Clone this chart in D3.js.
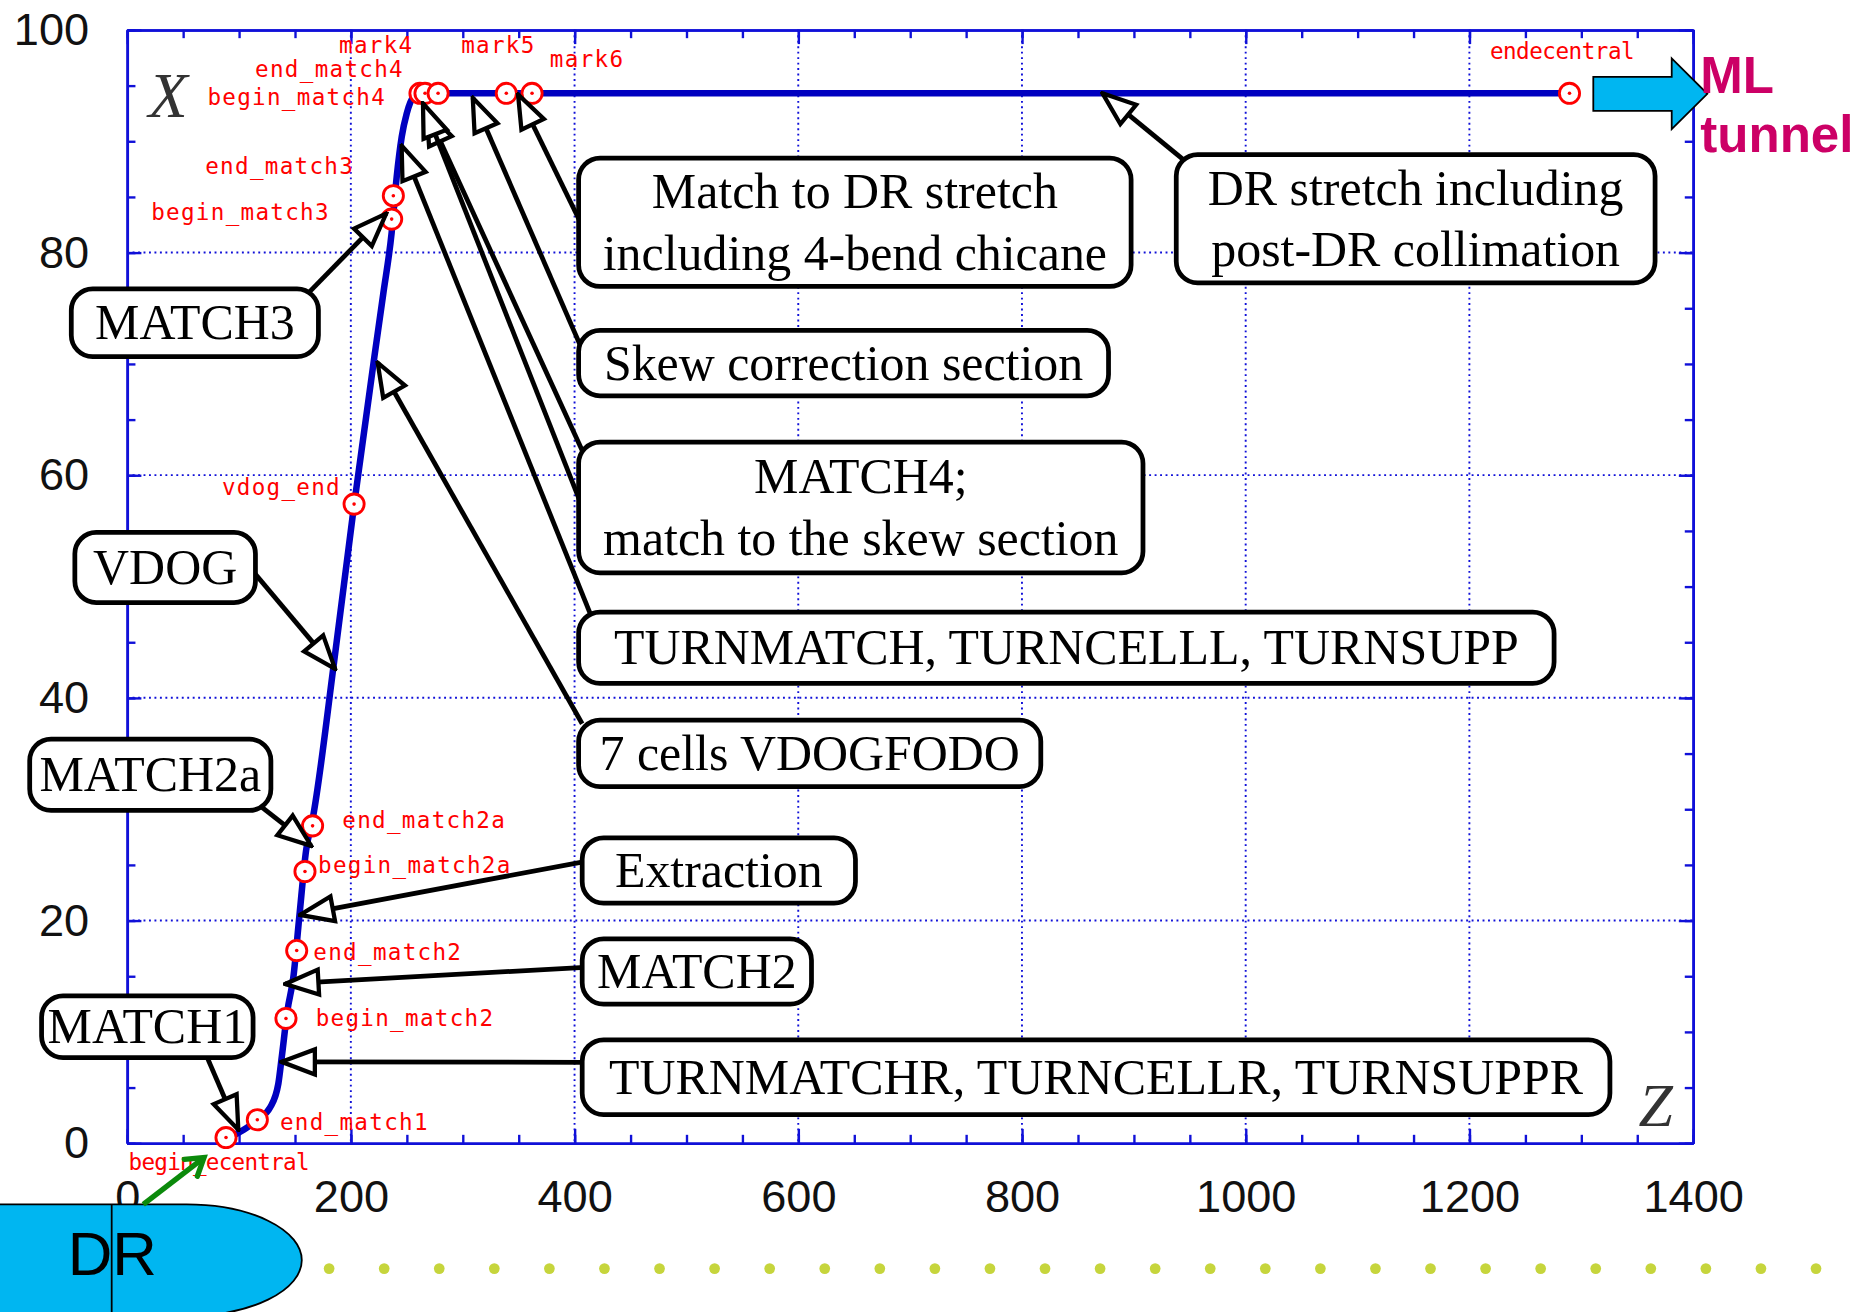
<!DOCTYPE html>
<html>
<head>
<meta charset="utf-8">
<script src="https://cdn.jsdelivr.net/npm/d3@7"></script>
<style>
  body { margin: 0; background: #fff; }
  svg { display: block; }
</style>
</head>
<body>
<div id="chart"></div>
<script>
// beam line of the e- RTML: horizontal position X (m) against Z (m)
var lineZ = [88.4, 97.9, 116.4, 127.8, 135.2, 138.2, 143.3, 148.6, 153.9, 160, 166, 185, 203, 221, 229, 236.5, 241, 245.5, 250, 256, 261, 1290];
var lineX = [0.5, 0.85, 2.1, 3.2, 5.35, 7.7, 11.9, 14.9, 20.3, 26.3, 29.2, 43.2, 57.4, 70.6, 76.3, 81.8, 86.8, 90.4, 92.5, 94.0, 94.3, 94.3];

// lattice markers
var markerNames = ["begin_ecentral", "end_match1", "begin_match2", "end_match2", "begin_match2a", "end_match2a",
  "vdog_end", "begin_match3", "end_match3", "begin_match4", "end_match4", "mark4", "mark5", "mark6", "endecentral"];
var markerZ = [88.4, 116.4, 142, 151.6, 159, 165.8, 202.9, 236.5, 238, 261.8, 266.3, 278, 339, 362, 1289.5];
var markerX = [0.5, 2.1, 11.2, 17.3, 24.4, 28.5, 57.4, 83.0, 85.1, 94.3, 94.3, 94.3, 94.3, 94.3, 94.3];

// axis ticks
var xTicks = [0, 200, 400, 600, 800, 1000, 1200, 1400];
var yTicks = [0, 20, 40, 60, 80, 100];

// section call-outs
var calloutText = [
  ["MATCH3"],
  ["Match to DR stretch", "including 4-bend chicane"],
  ["DR stretch including", "post-DR collimation"],
  ["Skew correction section"],
  ["MATCH4;", "match to the skew section"],
  ["TURNMATCH, TURNCELLL, TURNSUPP"],
  ["7 cells VDOGFODO"],
  ["Extraction"],
  ["MATCH2"],
  ["TURNMATCHR, TURNCELLR, TURNSUPPR"],
  ["MATCH1"],
  ["MATCH2a"],
  ["VDOG"]
];
// where each arrow points, in (Z, X), and which call-out it leaves from
var arrowFrom = [0, 1, 2, 3, 4, 4, 5, 6, 7, 8, 9, 10, 11, 12];
var arrowTipZ = [231.6, 349.5, 872, 309, 267.7, 264.5, 245.4, 224, 154.6, 141.3, 138.1, 99.4, 164.6, 185.9];
var arrowTipX = [83.5, 94.2, 94.3, 93.9, 92.7, 93.4, 89.6, 70.1, 20.5, 14.3, 7.3, 1.2, 26.7, 42.6];

// ---- layout (picture units) ----
var W = 1568, H = 1104;
var margin = {top: 25, right: 143, bottom: 142, left: 107};
var width = W - margin.left - margin.right;
var height = H - margin.top - margin.bottom;

// label offsets from the marker: dx, dy, anchor, letter spacing
var labelLayout = [
  [-82, 27.5, "start", -0.6], [19, 9, "start", 1.1], [25, 6, "start", 1.1], [14, 8, "start", 1.1],
  [11, 1, "start", 1.1], [25, 2, "start", 1.1], [-11, -8, "end", 1.1], [-52, 0.5, "end", 1.1],
  [-33, -18, "end", 1.1], [-28.5, 9.5, "end", 1.1], [-17.7, -13.6, "end", 1.1], [-20.7, -34, "end", 1.1],
  [-38, -34, "start", 1.1], [15, -22, "start", 1.1], [-67, -29, "start", -0.4]
];
// call-out boxes: x, y, w, h
var boxes = [
  [60, 243, 208, 57], [487, 133, 465, 108], [990, 130, 403, 108], [487, 278, 446, 55],
  [487, 372, 475, 110], [487, 515, 821, 60], [487, 606, 389, 56], [490, 705, 230, 55],
  [490, 790, 193, 55], [490, 875, 865, 63], [35, 838, 178, 52], [25, 622, 203, 60], [63, 448, 152, 59]
];
var arrowTails = [
  [258, 248], [489, 188], [997, 135], [489, 292], [490, 379], [489, 424], [497, 517],
  [490, 609], [492, 725], [492, 814], [492, 894], [174, 889], [220, 679], [214, 482]
];

var svg = d3.select("#chart").append("svg")
  .attr("width", 1863)
  .attr("height", 1312)
  .attr("viewBox", `0 0 ${W} ${H}`);

var defs = svg.append("defs");
defs.append("marker")
  .attr("id", "head")
  .attr("markerUnits", "userSpaceOnUse")
  .attr("viewBox", "0 -14 34 28")
  .attr("refX", 32).attr("refY", 0)
  .attr("markerWidth", 34).attr("markerHeight", 28)
  .attr("orient", "auto")
  .append("path")
  .attr("d", "M4,-10.5L32,0L4,10.5Z")
  .attr("fill", "#fff")
  .attr("stroke", "#000")
  .attr("stroke-width", 3.6);
defs.append("marker")
  .attr("id", "chev")
  .attr("markerUnits", "userSpaceOnUse")
  .attr("viewBox", "0 -12 24 24")
  .attr("refX", 20).attr("refY", 0)
  .attr("markerWidth", 24).attr("markerHeight", 24)
  .attr("orient", "auto")
  .append("path")
  .attr("d", "M6,-9L20,0L6,9")
  .attr("fill", "none")
  .attr("stroke", "#0b8a0b")
  .attr("stroke-width", 4.5)
  .attr("stroke-linecap", "round");

var chart = svg.append("g")
  .attr("transform", `translate(${margin.left}, ${margin.top})`);

var x = d3.scaleLinear().domain([0, 1400]).range([0, width]);
var y = d3.scaleLinear().domain([0, 100]).range([height, 0]);
var px = z => margin.left + x(z);
var py = v => margin.top + y(v);

var axisColor = "#1010d8";

// dotted grid
chart.append("g").selectAll("line")
  .data(xTicks.slice(1, -1)).enter().append("line")
  .attr("x1", d => x(d)).attr("x2", d => x(d))
  .attr("y1", 0).attr("y2", height)
  .attr("stroke", axisColor).attr("stroke-width", 1.6)
  .attr("stroke-dasharray", "1.6,3");
chart.append("g").selectAll("line")
  .data(yTicks.slice(1, -1)).enter().append("line")
  .attr("x1", 0).attr("x2", width)
  .attr("y1", d => y(d)).attr("y2", d => y(d))
  .attr("stroke", axisColor).attr("stroke-width", 1.6)
  .attr("stroke-dasharray", "1.6,3");

// axes, ticks pointing inwards on all four sides
var minorX = d3.range(0, 1401, 50), minorY = d3.range(0, 101, 5);
function styleAxis(g) {
  g.selectAll("path.domain").attr("stroke", axisColor).attr("stroke-width", 2.2);
  g.selectAll("line").attr("stroke", axisColor).attr("stroke-width", 2);
  g.selectAll("text")
    .attr("font-family", "Liberation Sans, Arial, sans-serif")
    .attr("font-size", 38)
    .attr("fill", "#111");
}
chart.append("g").attr("transform", `translate(0, ${height})`)
  .call(d3.axisBottom(x).tickValues(minorX).tickSize(-7).tickSizeOuter(0).tickFormat(""))
  .call(styleAxis);
chart.append("g").attr("transform", `translate(0, ${height})`)
  .call(d3.axisBottom(x).tickValues(xTicks).tickSize(-12).tickSizeOuter(0).tickPadding(31).tickFormat(d3.format("d")))
  .call(styleAxis);
chart.append("g")
  .call(d3.axisTop(x).tickValues(minorX).tickSize(-7).tickSizeOuter(0).tickFormat(""))
  .call(styleAxis);
chart.append("g")
  .call(d3.axisTop(x).tickValues(xTicks).tickSize(-12).tickSizeOuter(0).tickFormat(""))
  .call(styleAxis);
chart.append("g")
  .call(d3.axisLeft(y).tickValues(minorY).tickSize(-7).tickSizeOuter(0).tickFormat(""))
  .call(styleAxis);
chart.append("g")
  .call(d3.axisLeft(y).tickValues(yTicks).tickSize(-12).tickSizeOuter(0).tickPadding(32).tickFormat(d3.format("d")))
  .call(styleAxis);
chart.append("g").attr("transform", `translate(${width}, 0)`)
  .call(d3.axisRight(y).tickValues(minorY).tickSize(-7).tickSizeOuter(0).tickFormat(""))
  .call(styleAxis);
chart.append("g").attr("transform", `translate(${width}, 0)`)
  .call(d3.axisRight(y).tickValues(yTicks).tickSize(-12).tickSizeOuter(0).tickFormat(""))
  .call(styleAxis);

// axis letters
svg.append("text").attr("x", 125).attr("y", 98)
  .attr("font-family", "Liberation Serif, Times New Roman, serif")
  .attr("font-style", "italic").attr("font-size", 54).attr("fill", "#333")
  .text("X");
svg.append("text").attr("x", 1379).attr("y", 948)
  .attr("font-family", "Liberation Serif, Times New Roman, serif")
  .attr("font-style", "italic").attr("font-size", 52).attr("fill", "#333")
  .text("Z");

// beam line
var linePts = lineZ.map((z, i) => ({z: z, x: lineX[i]}));
chart.append("path")
  .datum(linePts)
  .attr("fill", "none")
  .attr("stroke", "#0000c0")
  .attr("stroke-width", 5.5)
  .attr("stroke-linejoin", "round")
  .attr("d", d3.line().x(d => x(d.z)).y(d => y(d.x)).curve(d3.curveMonotoneX));

// markers
var marks = markerNames.map((n, i) => ({name: n, z: markerZ[i], x: markerX[i], lay: labelLayout[i]}));
var mk = chart.append("g").selectAll("g")
  .data(marks).enter().append("g")
  .attr("transform", d => `translate(${x(d.z)}, ${y(d.x)})`);
mk.append("circle").attr("r", 8.5)
  .attr("fill", "#fff").attr("stroke", "#ff0000").attr("stroke-width", 2.4);
mk.append("circle").attr("r", 1.5).attr("fill", "#ff0000");
mk.append("text")
  .attr("x", d => d.lay[0]).attr("y", d => d.lay[1])
  .attr("text-anchor", d => d.lay[2])
  .attr("letter-spacing", d => d.lay[3])
  .attr("font-family", "DejaVu Sans Mono, monospace")
  .attr("font-size", 19)
  .attr("fill", "#ff0000")
  .text(d => d.name);

// call-out arrows
svg.append("g").selectAll("line")
  .data(arrowFrom).enter().append("line")
  .attr("x1", (d, i) => arrowTails[i][0])
  .attr("y1", (d, i) => arrowTails[i][1])
  .attr("x2", (d, i) => px(arrowTipZ[i]))
  .attr("y2", (d, i) => py(arrowTipX[i]))
  .attr("stroke", "#000")
  .attr("stroke-width", 4)
  .attr("marker-end", "url(#head)");

// call-out boxes
var co = svg.append("g").selectAll("g")
  .data(calloutText).enter().append("g");
co.append("rect")
  .attr("x", (d, i) => boxes[i][0]).attr("y", (d, i) => boxes[i][1])
  .attr("width", (d, i) => boxes[i][2]).attr("height", (d, i) => boxes[i][3])
  .attr("rx", 18).attr("ry", 18)
  .attr("fill", "#fff").attr("stroke", "#000").attr("stroke-width", 4);
co.each(function(lines, i) {
  var b = boxes[i];
  var cy = b[1] + b[3] / 2;
  d3.select(this).selectAll("text")
    .data(lines).enter().append("text")
    .attr("x", b[0] + b[2] / 2)
    .attr("y", (t, j) => cy + 14 + (j - (lines.length - 1) / 2) * 52)
    .attr("text-anchor", "middle")
    .attr("font-family", "Liberation Serif, Times New Roman, serif")
    .attr("font-size", 42)
    .attr("fill", "#000")
    .text(t => t);
});

// main linac arrow
svg.append("path")
  .attr("d", "M1341,64.5L1407,64.5L1407,49L1437,78.8L1407,108.5L1407,93.2L1341,93.2Z")
  .attr("fill", "#00b6f1").attr("stroke", "#000").attr("stroke-width", 1.5);
svg.append("text").attr("x", 1431).attr("y", 78.5)
  .attr("font-family", "Liberation Sans, Arial, sans-serif")
  .attr("font-weight", "bold").attr("font-size", 43).attr("fill", "#cc0066")
  .text("ML");
svg.append("text").attr("x", 1431).attr("y", 127.5)
  .attr("font-family", "Liberation Sans, Arial, sans-serif")
  .attr("font-weight", "bold").attr("font-size", 43).attr("fill", "#cc0066")
  .text("tunnel");

// damping ring
svg.append("path")
  .attr("d", "M-5,1013.5L157,1013.5A97,47 0 0 1 157,1107.5L-5,1107.5Z")
  .attr("fill", "#00b6f1").attr("stroke", "#000").attr("stroke-width", 1.5);
svg.append("line")
  .attr("x1", 94).attr("x2", 94).attr("y1", 1013.5).attr("y2", 1110)
  .attr("stroke", "#000").attr("stroke-width", 1.5);
svg.append("text").attr("x", 57).attr("y", 1073)
  .attr("font-family", "Liberation Sans, Arial, sans-serif")
  .attr("font-size", 52).attr("fill", "#000")
  .text("DR");

// dotted beam path along the bottom
svg.append("g").selectAll("circle")
  .data(d3.range(28)).enter().append("circle")
  .attr("cx", d => 277 + d * 46.35)
  .attr("cy", 1067.6)
  .attr("r", 4.5)
  .attr("fill", "#c6d53c");

// extraction from the DR
svg.append("line")
  .attr("x1", 120.6).attr("y1", 1013.5)
  .attr("x2", 171.7).attr("y2", 974.2)
  .attr("stroke", "#0b8a0b").attr("stroke-width", 4.5)
  .attr("marker-end", "url(#chev)");
</script>
</body>
</html>
